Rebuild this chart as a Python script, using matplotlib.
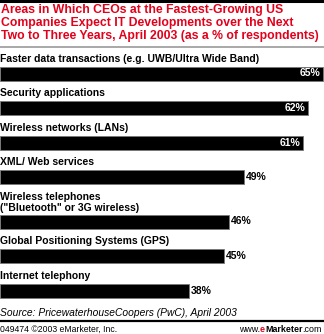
import matplotlib.pyplot as plt

# data
categories = [
    'Faster data transactions (e.g. UWB/Ultra Wide Band)',
    'Security applications',
    'Wireless networks (LANs)',
    'XML/ Web services',
    'Wireless telephones\n("Bluetooth" or 3G wireless)',
    'Global Positioning Systems (GPS)',
    'Internet telephony',
]
values = [65, 62, 61, 49, 46, 45, 38]

title = ('Areas in Which CEOs at the Fastest-Growing US\n'
         'Companies Expect IT Developments over the Next\n'
         'Two to Three Years, April 2003 (as a % of respondents)')
source = 'Source: PricewaterhouseCoopers (PwC), April 2003'
footer = '049474 \u00a92003 eMarketer, Inc.'

W, H = 324, 334
fig = plt.figure(figsize=(W / 100, H / 100), dpi=100)
ax = fig.add_axes([0, 0, 1, 1])
ax.set_xlim(0, W / 4.97)
ax.set_ylim(H, 0)
ax.axis('off')

font = 'Liberation Sans'
red = '#e3001b'

# rules
ax.axhline(1, color='black', lw=2.2)
ax.axhline(47, color='#999999', lw=1.2)
ax.axhline(320.5, color='black', lw=1.6)

fig.text(0.004, 1 - 4.5 / H, title, color=red, fontsize=8.85, fontweight='bold',
         family=font, va='top', ha='left', linespacing=1.1)

# stack label + bar slots from the top
y = 51
for cat, val in zip(categories, values):
    nlines = cat.count('\n') + 1
    ax.text(0.1, y + 2.8, cat, fontsize=7.5, fontweight='bold', family=font,
            va='top', ha='left', linespacing=1.1)
    y += 10 * nlines + 5.5
    bar_c = y + 7
    ax.barh(bar_c, val, height=14, color='black', edgecolor='#777777', lw=0.6)
    if val >= 60:
        ax.text(val - 0.5, bar_c, f'{val}%', color='white', fontsize=7.5,
                fontweight='bold', family=font, va='center', ha='right')
    else:
        ax.text(val + 0.4, bar_c, f'{val}%', color='black', fontsize=7.5,
                fontweight='bold', family=font, va='center', ha='left')
    y += 14 + 5

ax.text(0.1, 313.5, source, fontsize=7.4, style='italic', family=font,
        va='center', ha='left')
ax.text(0.1, 329.5, footer, fontsize=6.2, family=font, va='center', ha='left')

# right-aligned brand mark built from pieces
rx = W - 2
parts = [('.com', 'normal', 'black'), ('Marketer', 'bold', 'black'),
         ('e', 'bold', red), ('www.', 'normal', 'black')]
renderer = fig.canvas.get_renderer()
for s, w, c in parts:
    t = fig.text(rx / W, 1 - 329.5 / H, s, fontsize=6.4, fontweight=w,
                 color=c, family=font, va='center', ha='right')
    rx -= t.get_window_extent(renderer).width

fig.savefig('out.png', dpi=100)
